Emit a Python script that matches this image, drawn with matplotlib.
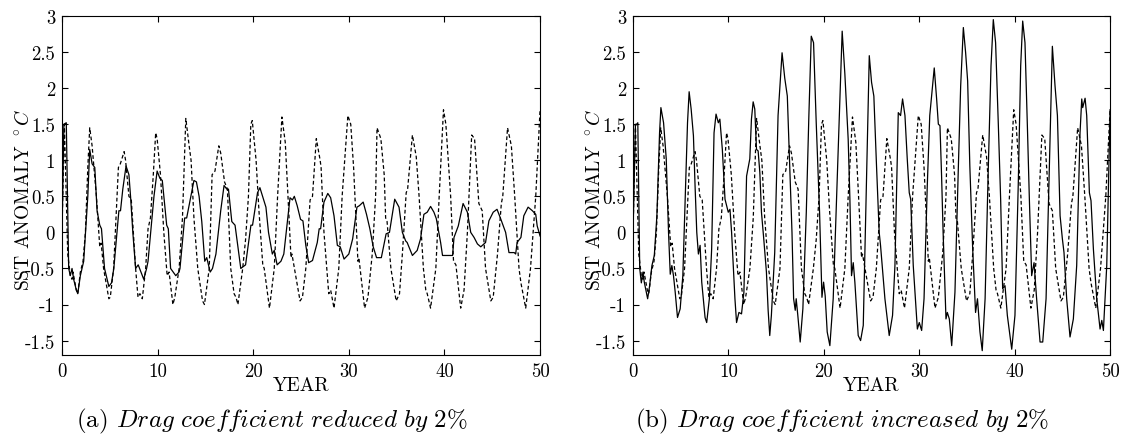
import matplotlib
matplotlib.use("Agg")
import matplotlib.pyplot as plt
from matplotlib.ticker import FormatStrFormatter, MultipleLocator

plt.rcParams['font.family'] = 'serif'
plt.rcParams['font.serif'] = ['cmr10']
plt.rcParams['mathtext.fontset'] = 'cm'
plt.rcParams['axes.unicode_minus'] = False
plt.rcParams['axes.formatter.use_mathtext'] = True

# control run (dashed), same in both panels
ctrl_t = [0.0, 0.25, 0.6, 0.87, 1.05, 1.15, 1.5, 1.65, 1.92, 2.2, 2.45, 2.7, 2.9, 3.15, 3.6, 3.95,
          4.1, 4.35, 4.9, 5.05, 5.4, 5.9, 6.1, 6.5, 6.65, 7.0, 7.25, 7.7, 7.95, 8.15, 8.4, 8.75,
          9.0, 9.25, 9.55, 9.8, 9.95, 10.3, 10.65, 11.0, 11.2, 11.6, 11.8, 12.25, 12.6, 12.95,
          13.3, 13.5, 13.8, 14.2, 14.7, 14.9, 15.4, 15.7, 16.0, 16.4, 16.6, 17.0, 17.3, 17.65,
          18.0, 18.2, 18.4, 18.9, 19.2, 19.5, 19.75, 19.9, 20.3, 20.6, 21.0, 21.15, 21.7, 22.2,
          22.55, 23.0, 23.35, 23.6, 23.95, 24.05, 24.9, 25.15, 25.5, 25.95, 26.2, 26.6, 27.0,
          27.1, 27.4, 27.9, 28.1, 28.45, 28.95, 29.3, 29.9, 30.2, 30.5, 30.95, 31.05, 31.65,
          32.0, 32.45, 32.8, 32.95, 33.35, 33.7, 33.85, 34.0, 34.4, 34.95, 35.3, 35.6, 36.0,
          36.15, 36.65, 37.05, 37.35, 37.8, 38.05, 38.2, 38.55, 39.1, 39.45, 39.9, 40.15, 40.65,
          40.95, 41.2, 41.7, 42.05, 42.4, 42.85, 43.15, 43.6, 43.95, 44.3, 44.85, 45.1, 45.55,
          45.95, 46.1, 46.6, 47.0, 47.35, 47.8, 48.0, 48.5, 49.0, 49.55, 50.0]
ctrl_v = [0.0, 1.5, -0.3, -0.6, -0.65, -0.55, -0.8, -0.85, -0.55, -0.4, 0.0, 0.9, 1.45, 1.2, 0.5, -0.2,
          -0.15, -0.5, -0.92, -0.9, -0.5, 0.9, 0.95, 1.12, 1.0, 0.5, 0.45, -0.5, -0.9, -0.85, -0.92, -0.5,
          0.05, 0.2, 0.8, 1.38, 1.3, 0.8, 0.0, -0.6, -0.55, -1.0, -0.9, -0.5, 0.2, 1.58,
          1.2, 1.0, 0.2, -0.5, -0.95, -1.0, -0.5, 0.8, 0.85, 1.2, 1.1, 0.7, 0.6, -0.5,
          -0.85, -0.9, -1.0, -0.5, -0.1, 0.5, 1.5, 1.55, 1.0, 0.3, -0.45, -0.5, -1.05, -0.5,
          0.5, 1.6, 1.25, 0.6, -0.35, -0.3, -0.95, -0.9, -0.5, 0.45, 0.5, 1.3, 1.0,
          0.9, 0.0, -0.85, -0.8, -1.05, -0.5, 0.5, 1.62, 1.5, 0.9, -0.4, -0.35, -1.05,
          -0.9, -0.3, 0.5, 1.45, 1.3, 0.8, 0.2, 0.15, -0.5, -0.95, -0.85, -0.3, 0.55,
          0.6, 1.35, 1.05, 0.5, -0.5, -0.8, -0.85, -1.05, -0.5, 0.5, 1.7, 1.5, 0.5,
          -0.4, -0.45, -1.05, -0.8, 0.0, 1.35, 1.3, 0.4, 0.3, -0.5, -0.95, -0.9, -0.3,
          0.4, 0.5, 1.45, 1.2, 0.5, -0.5, -0.7, -1.05, -0.5, 0.5, 1.7]

# drag coefficient reduced by 2% (solid, panel a)
red_t = [0.0, 0.2, 0.45, 0.7, 0.87, 1.05, 1.22, 1.5, 1.65, 1.92, 2.1, 2.27, 2.7, 2.9, 3.15, 3.43,
         3.67, 3.95, 4.13, 4.45, 4.9, 5.18, 5.42, 5.95, 6.12, 6.36, 6.7, 7.0, 7.17, 7.41, 7.7,
         7.97, 8.55, 8.85, 9.0, 9.34, 9.62, 9.95, 10.24, 10.49, 10.95, 11.12, 11.36, 11.9, 12.24,
         12.34, 12.83, 13.04, 13.8, 14.06, 14.34, 14.62, 14.93, 15.14, 15.5, 15.74, 16.1, 16.6,
         16.95, 17.24, 17.41, 17.76, 18.1, 18.7, 19.2, 19.76, 19.93, 20.45, 20.7, 21.33, 21.6,
         22.0, 22.2, 22.5, 22.9, 23.2, 23.85, 24.1, 24.3, 24.6, 24.95, 25.2, 25.5, 25.8, 26.2,
         26.7, 26.9, 27.05, 27.4, 27.8, 28.1, 28.45, 28.8, 29.1, 29.5, 30.0, 30.4, 30.85, 31.1,
         31.5, 31.85, 32.2, 32.55, 32.9, 33.4, 33.9, 34.25, 34.8, 35.25, 35.6, 35.95, 36.1,
         36.65, 37.15, 37.5, 37.85, 38.2, 38.55, 38.9, 39.15, 39.6, 39.8, 40.3, 40.85, 41.0,
         41.45, 41.95, 42.4, 42.75, 43.1, 43.45, 43.8, 44.3, 44.65, 45.1, 45.5, 45.85, 46.4,
         46.75, 47.3, 47.45, 47.6, 48.0, 48.3, 48.75, 49.2, 49.55, 49.7, 50.0]
red_v = [0.0, 1.5, 1.52, -0.5, -0.6, -0.5, -0.65, -0.8, -0.85, -0.6, -0.5, -0.4, 0.5, 1.15, 0.95, 0.9,
         0.3, 0.1, 0.05, -0.5, -0.75, -0.7, -0.5, 0.3, 0.3, 0.6, 0.92, 0.8, 0.5, 0.0, -0.5,
         -0.45, -0.65, -0.5, -0.4, 0.1, 0.5, 0.85, 0.75, 0.72, 0.1, 0.05, -0.5, -0.6, -0.55,
         -0.5, 0.2, 0.2, 0.72, 0.7, 0.5, 0.15, -0.4, -0.35, -0.55, -0.5, -0.3, 0.3,
         0.65, 0.6, 0.6, 0.15, 0.1, -0.5, -0.45, 0.1, 0.1, 0.55, 0.62, 0.35, 0.0,
         -0.3, -0.25, -0.45, -0.4, -0.3, 0.48, 0.45, 0.5, 0.37, 0.18, 0.16, -0.18, -0.42, -0.39,
         -0.14, 0.05, 0.05, 0.42, 0.54, 0.48, 0.23, -0.18, -0.2, -0.37, -0.3, -0.09, 0.35, 0.37,
         0.42, 0.25, 0.05, -0.2, -0.35, -0.35, -0.02, 0.0, 0.46, 0.35, 0.0, -0.12, -0.14,
         -0.32, -0.25, -0.09, 0.25, 0.28, 0.36, 0.28, 0.19, -0.14, -0.32, -0.32, -0.32, -0.07,
         0.09, 0.4, 0.28, 0.0, -0.07, -0.16, -0.2, -0.14, 0.16, 0.28, 0.32, 0.2, 0.0,
         -0.28, -0.28, -0.3, -0.14, -0.07, 0.23, 0.35, 0.3, 0.25, 0.09, -0.05]

# drag coefficient increased by 2% (solid, panel b)
inc_t = [0.0, 0.25, 0.5, 0.7, 0.87, 1.04, 1.18, 1.39, 1.53, 1.74, 1.98, 2.23, 2.5, 2.78, 2.92, 3.2,
         3.48, 3.72, 3.9, 4.07, 4.24, 4.42, 4.66, 4.94, 5.22, 5.47, 5.71, 5.88, 6.09, 6.33, 6.5,
         6.68, 6.85, 7.03, 7.2, 7.55, 7.72, 8.0, 8.24, 8.49, 8.7, 8.94, 9.1, 9.36, 9.64, 9.98,
         10.16, 10.33, 10.5, 10.68, 10.85, 11.1, 11.37, 11.62, 11.9, 12.07, 12.24, 12.41, 12.59,
         12.76, 12.94, 13.11, 13.29, 13.46, 13.7, 13.98, 14.16, 14.33, 14.5, 14.85, 15.2, 15.62,
         15.9, 16.17, 16.42, 16.66, 16.83, 17.0, 17.1, 17.27, 17.52, 17.8, 18.16, 18.43, 18.68,
         18.92, 19.2, 19.55, 19.8, 19.97, 20.14, 20.35, 20.63, 20.98, 21.33, 21.68, 21.92, 22.2,
         22.55, 22.73, 22.9, 23.08, 23.25, 23.6, 23.85, 24.13, 24.76, 25.0, 25.24, 25.52, 25.8,
         25.94, 26.4, 26.85, 27.2, 27.45, 27.8, 28.04, 28.25, 28.5, 28.74, 28.95, 29.1, 29.37,
         29.8, 30.0, 30.25, 30.5, 30.84, 31.1, 31.57, 31.82, 32.0, 32.17, 32.34, 32.5, 32.8,
         32.94, 33.15, 33.4, 33.74, 34.1, 34.34, 34.62, 34.86, 35.07, 35.3, 35.6, 35.9, 36.1,
         36.36, 36.6, 36.9, 37.24, 37.52, 37.76, 38.0, 38.29, 38.53, 38.74, 38.99, 39.23, 39.69,
         40.03, 40.38, 40.63, 40.84, 41.08, 41.33, 41.54, 41.78, 42.03, 42.3, 42.66, 42.94,
         43.29, 43.64, 43.95, 44.23, 44.48, 44.76, 45.0, 45.17, 45.45, 45.8, 46.15, 46.5, 46.85,
         47.03, 47.13, 47.38, 47.55, 47.83, 48.0, 48.25, 48.6, 48.95, 49.13, 49.3, 49.65, 50.0]
inc_v = [0.0, 1.48, 1.52, -0.5, -0.7, -0.55, -0.69, -0.83, -0.92, -0.74, -0.46, -0.32, 0.23, 1.38, 1.73, 1.52,
         1.02, 0.0, -0.58, -0.46, -0.6, -0.83, -1.18, -1.06, -0.6, 0.46, 1.52, 1.95, 1.71, 1.34, 0.65,
         0.0, -0.3, -0.18, -0.69, -1.18, -1.25, -0.92, -0.23, 1.38, 1.64, 1.52, 1.57, 1.15, 0.46, 0.28,
         0.32, 0.0, -0.46, -0.92, -1.25, -1.11, -1.13, -0.83, 0.78, 0.9, 1.02, 1.57, 1.81,
         1.71, 1.15, 1.13, 0.83, 0.28, -0.09, -0.55, -1.08, -1.43, -1.15, -0.28, 1.62, 2.49,
         2.14, 1.89, 0.92, 0.0, -0.92, -1.08, -0.92, -1.15, -1.52, -1.06, 0.28, 1.62, 2.72,
         2.63, 1.52, 0.28, -0.9, -0.69, -0.88, -1.38, -1.57, -0.92, 0.46, 1.85, 2.79, 2.2,
         1.29, 0.46, -0.6, -0.42, -0.69, -1.43, -1.5, -1.29, 2.45, 2.08, 1.89, 0.92, 0.0,
         -0.18, -0.92, -1.43, -1.15, -0.46, 1.66, 1.62, 1.85, 1.62, 1.02, 0.55, 0.46, -0.46,
         -1.34, -1.25, -1.36, -0.92, 0.65, 1.62, 2.28, 1.85, 1.5, 1.48, 0.78, 0.0, -1.2,
         -1.11, -1.2, -1.57, -0.83, 0.92, 2.03, 2.84, 2.49, 2.1, 0.92, -0.23, -1.11, -0.92,
         -1.38, -1.64, -0.92, 0.92, 2.31, 2.95, 2.63, 1.48, 0.46, -0.78, -0.74, -1.15, -1.62,
         -1.15, 0.69, 2.31, 2.93, 2.63, 1.48, 0.46, -0.6, -0.42, -0.92, -1.52, -1.52,
         -0.92, 0.92, 2.58, 2.03, 1.62, 0.23, -0.09, -0.28, -0.92, -1.45, -1.2, -0.46, 1.38,
         1.85, 1.73, 1.86, 1.62, 0.55, 0.44, -0.23, -0.92, -1.34, -1.22, -1.36, -0.46, 1.7]

captions = [r"(a) $\mathit{Drag\ coefficient\ reduced\ by\ 2\%}$",
            r"(b) $\mathit{Drag\ coefficient\ increased\ by\ 2\%}$"]

fig = plt.figure(figsize=(11.23, 4.35), dpi=100)
ax1 = fig.add_axes([0.0552, 0.1816, 0.4257, 0.7793])
ax2 = fig.add_axes([0.5637, 0.1816, 0.4248, 0.7793])

for ax, sol_t, sol_v in [(ax1, red_t, red_v), (ax2, inc_t, inc_v)]:
    ax.plot(sol_t, sol_v, color='black', lw=0.9)
    ax.plot(ctrl_t, ctrl_v, color='black', lw=0.9, ls=(0, (3, 2)))
    ax.set_xlim(0, 50)
    ax.set_ylim(-1.7, 3)
    ax.xaxis.set_major_locator(MultipleLocator(10))
    ax.yaxis.set_major_locator(MultipleLocator(0.5))
    ax.xaxis.set_major_formatter(FormatStrFormatter('%g'))
    ax.yaxis.set_major_formatter(FormatStrFormatter('%g'))
    ax.tick_params(direction='in', top=True, right=True, length=4, labelsize=13.5, pad=5)
    ax.set_xlabel("YEAR", fontsize=14, labelpad=-3)
    ax.set_ylabel(r"SST ANOMALY $^\circ C$", fontsize=14)
    ax.yaxis.set_label_coords(-0.06, 0.46)

# subfigure captions
fig.text(272 / 1123, 0.018, captions[0], ha='center', va='baseline', fontsize=18)
fig.text(842 / 1123, 0.018, captions[1], ha='center', va='baseline', fontsize=18)

plt.savefig("out.png", dpi=100)
